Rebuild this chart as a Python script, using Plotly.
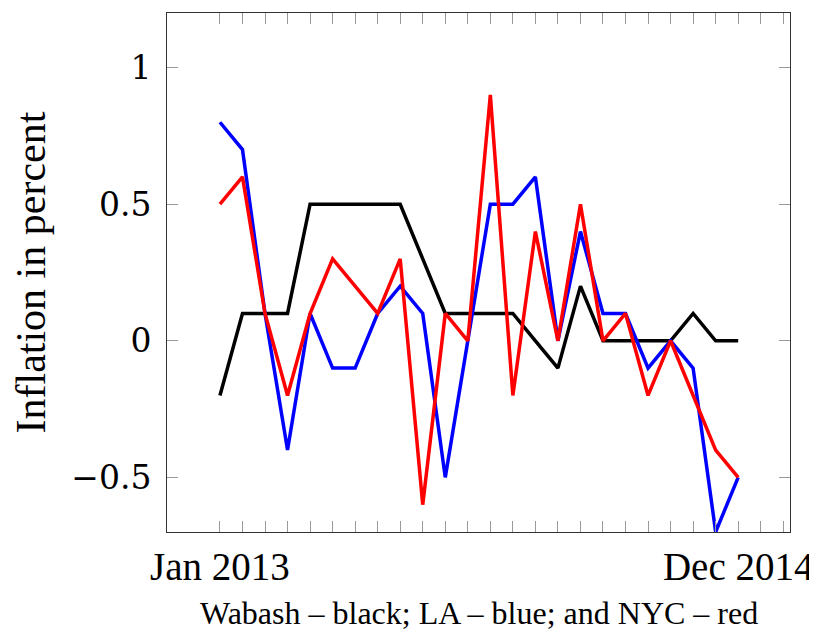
import plotly.graph_objects as go

months = list(range(24))
tick_positions = [0, 23]
tick_labels = ["Jan 2013", "Dec 2014"]

wabash = [-0.2, 0.1, 0.1, 0.1, 0.5, 0.5, 0.5, 0.5, 0.5, 0.3, 0.1, 0.1,
          0.1, 0.1, 0.0, -0.1, 0.2, 0.0, 0.0, 0.0, 0.0, 0.1, 0.0, 0.0]
la = [0.8, 0.7, 0.1, -0.4, 0.1, -0.1, -0.1, 0.1, 0.2, 0.1, -0.5, 0.0,
      0.5, 0.5, 0.6, 0.0, 0.4, 0.1, 0.1, -0.1, 0.0, -0.1, -0.7, -0.5]
nyc = [0.5, 0.6, 0.1, -0.2, 0.1, 0.3, 0.2, 0.1, 0.3, -0.6, 0.1, 0.0,
       0.9, -0.2, 0.4, 0.0, 0.5, 0.0, 0.1, -0.2, 0.0, -0.2, -0.4, -0.5]

y_ticks = [1, 0.5, 0, -0.5]
y_tick_labels = ["1", "0.5", "0", "\u22120.5"]

x_title = "Wabash \u2013 black; LA \u2013 blue; and NYC \u2013 red"
y_title = "Inflation in percent"

fig = go.Figure()
for name, vals, col in [("Wabash", wabash, "black"), ("LA", la, "#0000ff"), ("NYC", nyc, "#ff0000")]:
    fig.add_trace(go.Scatter(x=months, y=vals, mode="lines", name=name,
                             line=dict(color=col, width=3.5)))

font_family = "Liberation Serif, DejaVu Serif, serif"
num_family = "DejaVu Serif, Liberation Serif, serif"
fig.update_layout(
    width=809, height=624,
    margin=dict(l=159, r=27, t=5, b=100),
    paper_bgcolor="white", plot_bgcolor="white",
    showlegend=False,
    font=dict(family=font_family, color="black"),
)
fig.update_xaxes(
    range=[-2.35, 25.3], automargin=False,
    tickmode="array", tickvals=tick_positions, ticktext=tick_labels,
    tickfont=dict(size=39, family=font_family),
    ticks="inside", ticklen=11, tickcolor="#999", tickwidth=1,
    minor=dict(tickmode="array", tickvals=list(range(26)), ticks="inside",
               ticklen=11, tickcolor="#999", tickwidth=1),
    showline=True, linecolor="#333", linewidth=1, mirror="allticks",
    showgrid=False, zeroline=False,
)
fig.update_yaxes(
    range=[-0.7, 1.2], automargin=False,
    tickmode="array", tickvals=y_ticks, ticktext=y_tick_labels,
    tickfont=dict(size=33, family=num_family), ticklabelstandoff=8,
    ticks="inside", ticklen=11, tickcolor="#999", tickwidth=1,
    showline=True, linecolor="#333", linewidth=1, mirror="allticks",
    showgrid=False, zeroline=False,
)
fig.add_annotation(text=x_title, xref="paper", yref="paper", x=0.5, y=0,
                   xanchor="center", yanchor="middle", yshift=-81, showarrow=False,
                   font=dict(size=32, family=font_family, color="black"))
fig.add_annotation(text=y_title, xref="paper", yref="paper", x=0, y=0.5,
                   xanchor="center", yanchor="middle", xshift=-137, textangle=-90,
                   showarrow=False, font=dict(size=42, family=font_family, color="black"))
fig.write_html("out.html")
